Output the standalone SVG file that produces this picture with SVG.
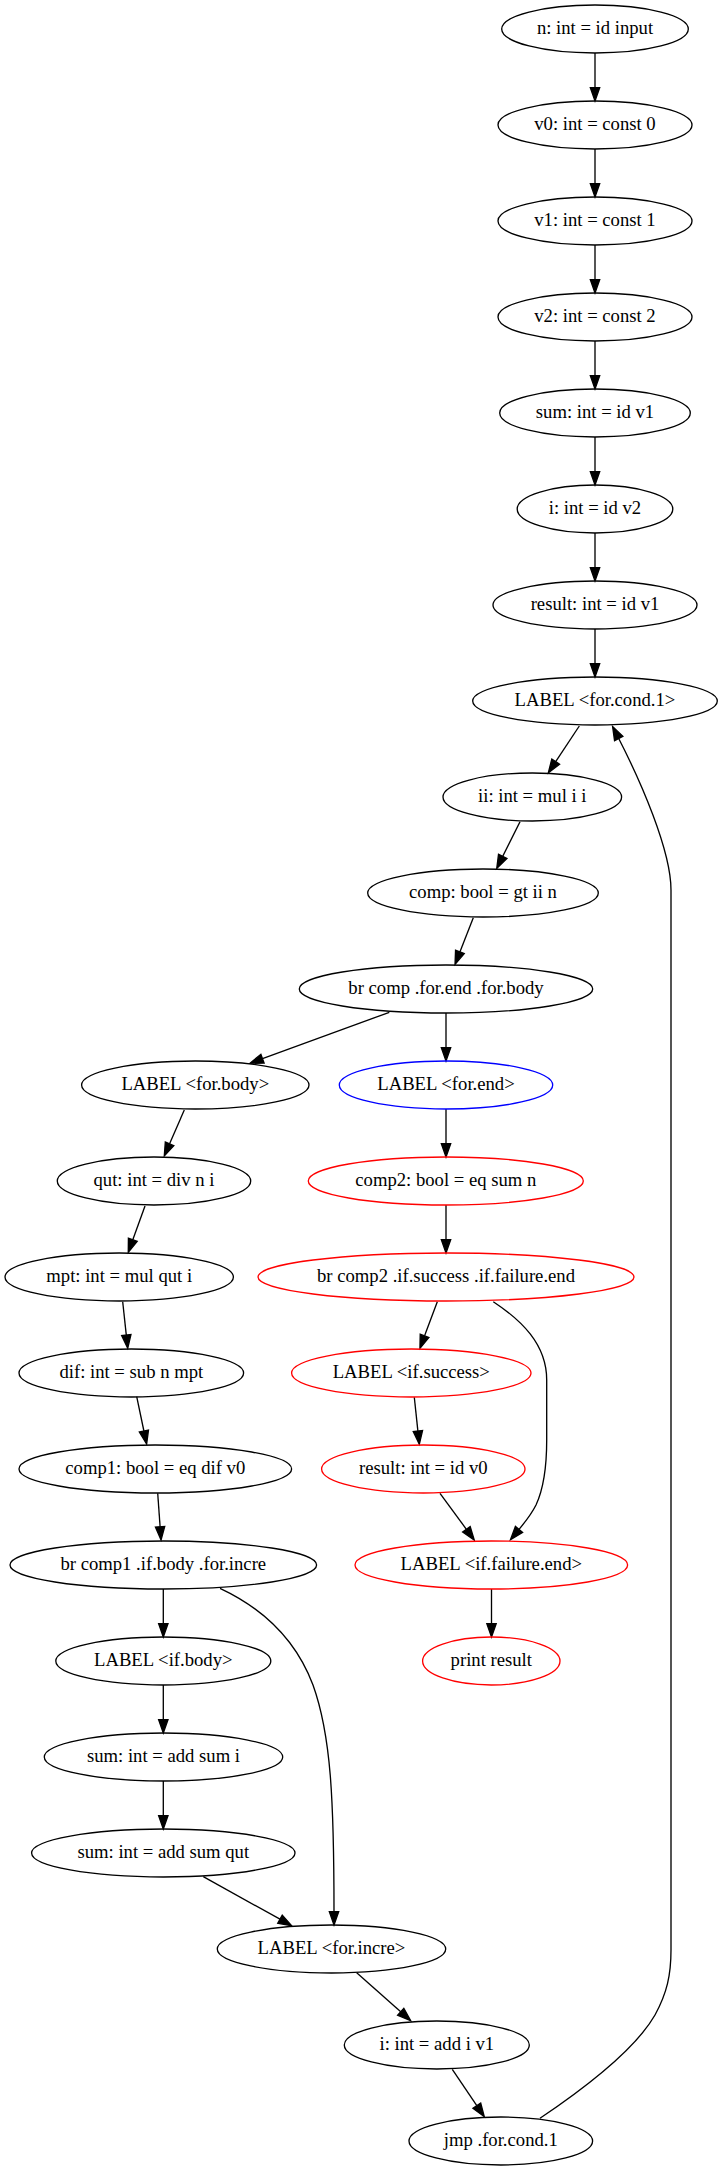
<svg xmlns="http://www.w3.org/2000/svg" width="723" height="2171" viewBox="0 0 723 2171">
<style>
.n ellipse{fill:none;stroke:#000;stroke-width:1.33}
.n.red ellipse{stroke:#ff0000}
.n.blue ellipse{stroke:#0000ff}
.n text{font-family:"Liberation Serif","Times New Roman",serif;font-size:18.67px;text-anchor:middle;fill:#000}
#edges path{fill:none;stroke:#000;stroke-width:1.33;marker-end:url(#ah)}
</style>
<defs>
<marker id="ah" markerUnits="userSpaceOnUse" markerWidth="16" markerHeight="12" refX="0" refY="0" viewBox="-1 -6 16 12" orient="auto" overflow="visible">
<path d="M0,-4.67 L13.33,0 L0,4.67 Z" fill="#000" stroke="#000" stroke-width="1.33"/>
</marker>
</defs>
<rect x="0" y="0" width="723" height="2171" fill="#fff"/>
<g id="edges">
<path d="M595,53 L595,87.7"/>
<path d="M595,149 L595,183.7"/>
<path d="M595,245 L595,279.7"/>
<path d="M595,341 L595,375.7"/>
<path d="M595,437 L595,471.7"/>
<path d="M595,533 L595,567.7"/>
<path d="M595,629 L595,663.7"/>
<path d="M579.3,726 L555.7,761.6"/>
<path d="M520,821.7 L502.7,856.4"/>
<path d="M473.3,917.7 L459.9,951.9"/>
<path d="M389.3,1012.3 L262.5,1058.7"/>
<path d="M446,1013 L446,1047.7"/>
<path d="M446,1109 L446,1143.7"/>
<path d="M446,1205 L446,1239.7"/>
<path d="M437.3,1301.7 L424.6,1335.8"/>
<path d="M493.3,1301.7 C521,1320 546.7,1344 546.7,1380 L546.7,1440 C546.7,1470 543,1490 536,1505 C532,1513 526,1521 519,1529.4"/>
<path d="M414.3,1397.3 L417.9,1431.1"/>
<path d="M440,1493.3 L466.4,1529.3"/>
<path d="M491.5,1589 L491.5,1623.7"/>
<path d="M184.3,1110 L169.6,1143.8"/>
<path d="M145,1206 L132.8,1239.8"/>
<path d="M122.7,1301.7 L126.3,1335.1"/>
<path d="M136.7,1396.7 L143.9,1431"/>
<path d="M157.7,1493.3 L160.1,1526.7"/>
<path d="M163.3,1589 L163.3,1623.7"/>
<path d="M163.3,1685 L163.3,1719.7"/>
<path d="M163.3,1781 L163.3,1815.7"/>
<path d="M220,1588.3 C262,1608 296,1640 313,1685 C331,1735 334,1800 334,1911.7"/>
<path d="M203.3,1876.7 L280,1919.2"/>
<path d="M356.7,1972.7 L400.7,2011.8"/>
<path d="M452.3,2069.3 L476.8,2105.6"/>
<path d="M540,2118.3 C585,2088 635,2050 655,2015 C667,1993 671,1975 671,1950 L671,890 C671,850 640,780 618.7,738.5"/>
</g>
<g id="n_input" class="n"><ellipse cx="595" cy="29" rx="93.3" ry="24"/><text x="595" y="34">n: int = id input</text></g>
<g id="v0" class="n"><ellipse cx="595" cy="125" rx="97" ry="24"/><text x="595" y="130">v0: int = const 0</text></g>
<g id="v1" class="n"><ellipse cx="595" cy="221" rx="97" ry="24"/><text x="595" y="226">v1: int = const 1</text></g>
<g id="v2" class="n"><ellipse cx="595" cy="317" rx="97" ry="24"/><text x="595" y="322">v2: int = const 2</text></g>
<g id="sum_id" class="n"><ellipse cx="595" cy="413" rx="95.3" ry="24"/><text x="595" y="418">sum: int = id v1</text></g>
<g id="i_id" class="n"><ellipse cx="595" cy="509" rx="77.8" ry="24"/><text x="595" y="514">i: int = id v2</text></g>
<g id="result_id" class="n"><ellipse cx="595" cy="605" rx="102" ry="24"/><text x="595" y="610">result: int = id v1</text></g>
<g id="label_cond" class="n"><ellipse cx="595" cy="701" rx="122.3" ry="24"/><text x="595" y="706">LABEL &lt;for.cond.1&gt;</text></g>
<g id="ii" class="n"><ellipse cx="532.3" cy="797" rx="89.3" ry="24"/><text x="532.3" y="802">ii: int = mul i i</text></g>
<g id="comp" class="n"><ellipse cx="483" cy="893" rx="115.3" ry="24"/><text x="483" y="898">comp: bool = gt ii n</text></g>
<g id="br_comp" class="n"><ellipse cx="446" cy="989" rx="146.7" ry="24"/><text x="446" y="994">br comp .for.end .for.body</text></g>
<g id="label_forbody" class="n"><ellipse cx="195.3" cy="1085" rx="113.7" ry="24"/><text x="195.3" y="1090">LABEL &lt;for.body&gt;</text></g>
<g id="label_forend" class="n blue"><ellipse cx="446" cy="1085" rx="106.7" ry="24"/><text x="446" y="1090">LABEL &lt;for.end&gt;</text></g>
<g id="qut" class="n"><ellipse cx="154" cy="1181" rx="96.7" ry="24"/><text x="154" y="1186">qut: int = div n i</text></g>
<g id="comp2" class="n red"><ellipse cx="445.8" cy="1181" rx="137.5" ry="24"/><text x="445.8" y="1186">comp2: bool = eq sum n</text></g>
<g id="mpt" class="n"><ellipse cx="119.2" cy="1277" rx="114.2" ry="24"/><text x="119.2" y="1282">mpt: int = mul qut i</text></g>
<g id="br_comp2" class="n red"><ellipse cx="446" cy="1277" rx="188" ry="24"/><text x="446" y="1282">br comp2 .if.success .if.failure.end</text></g>
<g id="dif" class="n"><ellipse cx="131.3" cy="1373" rx="112.3" ry="24"/><text x="131.3" y="1378">dif: int = sub n mpt</text></g>
<g id="label_ifsuccess" class="n red"><ellipse cx="411.3" cy="1373" rx="119.7" ry="24"/><text x="411.3" y="1378">LABEL &lt;if.success&gt;</text></g>
<g id="comp1" class="n"><ellipse cx="155.3" cy="1469" rx="136.3" ry="24"/><text x="155.3" y="1474">comp1: bool = eq dif v0</text></g>
<g id="result_v0" class="n red"><ellipse cx="423.3" cy="1469" rx="101.7" ry="24"/><text x="423.3" y="1474">result: int = id v0</text></g>
<g id="br_comp1" class="n"><ellipse cx="163.3" cy="1565" rx="153.3" ry="24"/><text x="163.3" y="1570">br comp1 .if.body .for.incre</text></g>
<g id="label_iffailure" class="n red"><ellipse cx="491.3" cy="1565" rx="136.3" ry="24"/><text x="491.3" y="1570">LABEL &lt;if.failure.end&gt;</text></g>
<g id="label_ifbody" class="n"><ellipse cx="163.3" cy="1661" rx="107.5" ry="24"/><text x="163.3" y="1666">LABEL &lt;if.body&gt;</text></g>
<g id="print" class="n red"><ellipse cx="491.3" cy="1661" rx="68.7" ry="24"/><text x="491.3" y="1666">print result</text></g>
<g id="sum_add_i" class="n"><ellipse cx="163.5" cy="1757" rx="119.2" ry="24"/><text x="163.5" y="1762">sum: int = add sum i</text></g>
<g id="sum_add_qut" class="n"><ellipse cx="163.3" cy="1853" rx="131.7" ry="24"/><text x="163.3" y="1858">sum: int = add sum qut</text></g>
<g id="label_forincre" class="n"><ellipse cx="331.5" cy="1949" rx="114.2" ry="24"/><text x="331.5" y="1954">LABEL &lt;for.incre&gt;</text></g>
<g id="i_add" class="n"><ellipse cx="436.8" cy="2045" rx="92.5" ry="24"/><text x="436.8" y="2050">i: int = add i v1</text></g>
<g id="jmp" class="n"><ellipse cx="500.8" cy="2141" rx="91.8" ry="24"/><text x="500.8" y="2146">jmp .for.cond.1</text></g>
</svg>
